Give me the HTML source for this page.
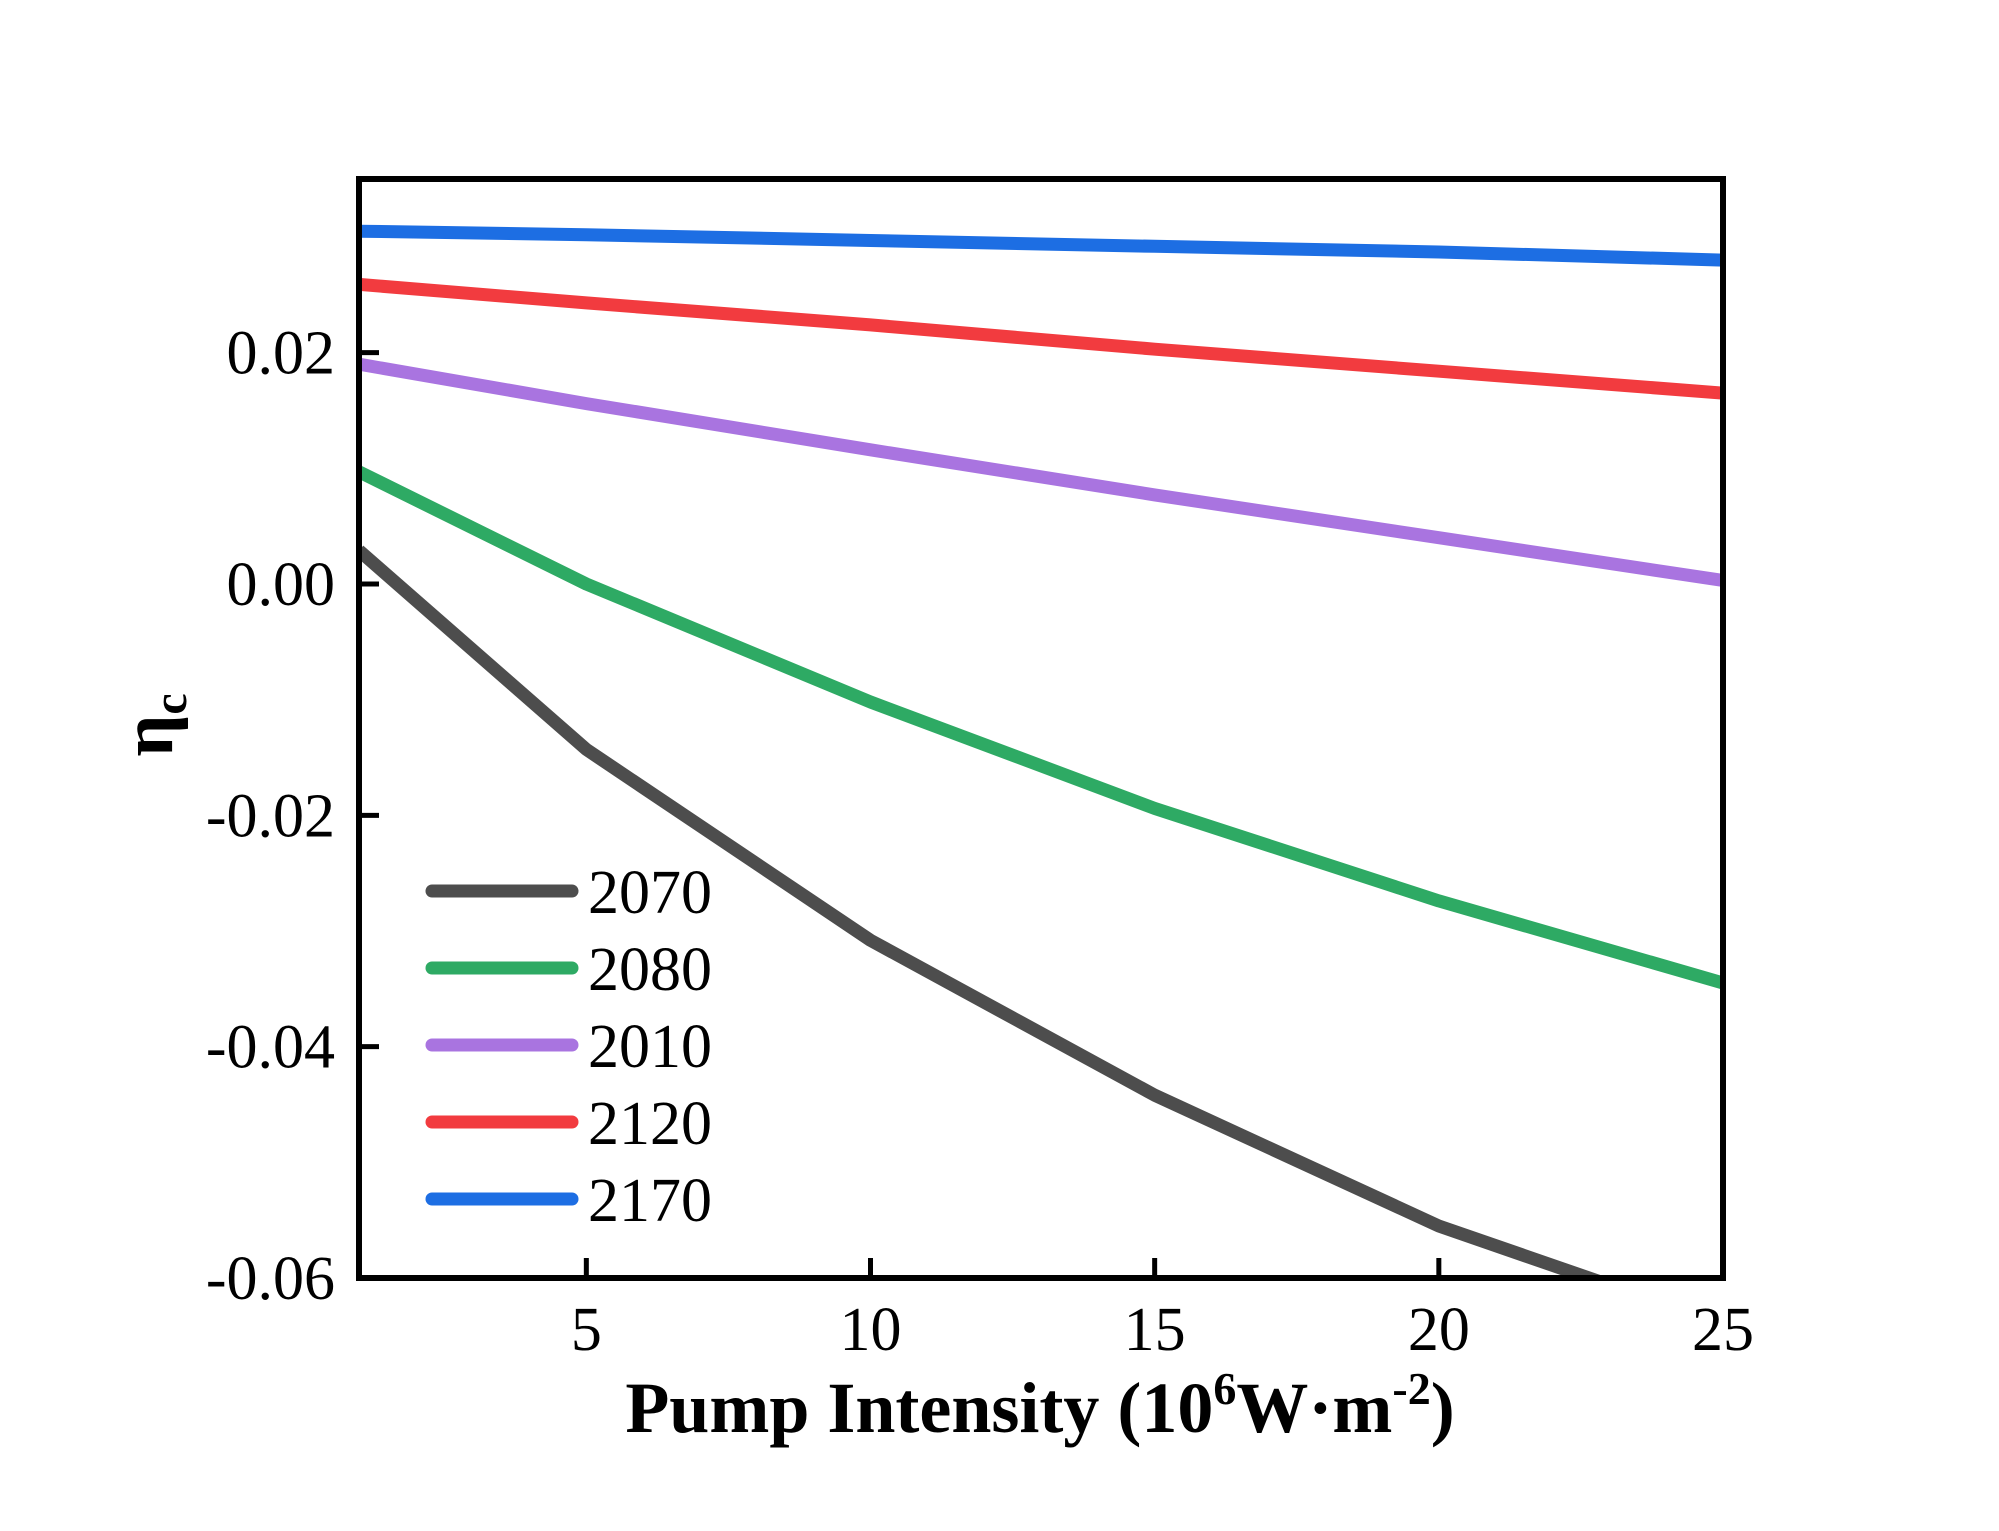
<!DOCTYPE html>
<html><head><meta charset="utf-8"><style>
html,body{margin:0;padding:0;background:#fff;}
svg{display:block;font-family:"Liberation Serif",serif;}
</style></head><body>
<svg id="chart" width="1999" height="1531" viewBox="0 0 1999 1531" xmlns="http://www.w3.org/2000/svg">
<defs><clipPath id="plotclip"><rect x="359" y="179" width="1364" height="1099"/></clipPath></defs>
<rect x="0" y="0" width="1999" height="1531" fill="#fff"/>
<g id="series" clip-path="url(#plotclip)"></g>
<g id="axes"></g>
<g id="legend"></g>
<text x="1040" y="1432" text-anchor="middle" font-size="72" font-weight="bold">Pump Intensity (10<tspan dy="-28" font-size="46">6</tspan><tspan dy="28">W·m</tspan><tspan dy="-28" font-size="46">-2</tspan><tspan dy="28">)</tspan></text>
<text transform="translate(172,725) rotate(-90)" text-anchor="middle" font-size="74" font-weight="bold">η<tspan dy="14" font-size="48">c</tspan></text>
</svg>
<script>
const xValues = [1, 5, 10, 15, 20, 25];
const seriesNames = ["2070", "2080", "2010", "2120", "2170"];
const seriesColors = ["#4d4d4d", "#2eaa64", "#a974e0", "#f23b3f", "#1d6ee3"];
const s2070 = [0.0029, -0.0143, -0.0308, -0.0442, -0.0555, -0.0640];
const s2080 = [0.0097, 0.0000, -0.0102, -0.0194, -0.0274, -0.0345];
const s2010 = [0.0190, 0.0156, 0.0116, 0.0077, 0.0040, 0.0003];
const s2120 = [0.0259, 0.0243, 0.0224, 0.0203, 0.0184, 0.0165];
const s2170 = [0.0305, 0.0302, 0.0297, 0.0292, 0.0287, 0.0280];
const xTicks = [5, 10, 15, 20, 25];
const yTicks = [0.02, 0.00, -0.02, -0.04, -0.06];
const yTickLabels = ["0.02", "0.00", "-0.02", "-0.04", "-0.06"];

const NS = "http://www.w3.org/2000/svg";
const L = 359, R = 1723, T = 179, B = 1278;
const xMin = 1, xMax = 25, yMin = -0.06, yZeroPx = 584;
function X(v){ return L + (v - xMin) * (R - L) / (xMax - xMin); }
function Y(v){ return yZeroPx + (0 - v) * (B - yZeroPx) / (0 - yMin); }
function mk(tag, attrs, parent){ const e = document.createElementNS(NS, tag); for (const k in attrs) e.setAttribute(k, attrs[k]); parent.appendChild(e); return e; }

const allSeries = [s2070, s2080, s2010, s2120, s2170];
const sg = document.getElementById("series");
const lg = document.getElementById("legend");
allSeries.forEach((s, i) => {
  const d = s.map((v, j) => (j ? "L" : "M") + X(xValues[j]).toFixed(1) + " " + Y(v).toFixed(1)).join(" ");
  const p = mk("path", {d: d, fill: "none", stroke: seriesColors[i], "stroke-width": 13, "stroke-linejoin": "round"}, sg);
  
  
  const ly = 891 + i * 77;
  const ll = mk("line", {x1: 432, x2: 572, y1: ly, y2: ly, stroke: seriesColors[i], "stroke-width": 13, "stroke-linecap": "round"}, lg);
  
  
  const lt = mk("text", {x: 588, y: ly + 22, "font-size": 62}, lg);
  lt.textContent = seriesNames[i];
  
  
});

const ag = document.getElementById("axes");
const frame = mk("rect", {x: L, y: T, width: R - L, height: B - T, fill: "none", stroke: "#000", "stroke-width": 6}, ag);


xTicks.forEach(t => {
  const tk = mk("line", {x1: X(t), x2: X(t), y1: B, y2: B - 20, stroke: "#000", "stroke-width": 5}, ag);
  
  
  const tl = mk("text", {x: X(t), y: B + 72, "text-anchor": "middle", "font-size": 62}, ag);
  tl.textContent = String(t);
  
  
});
yTicks.forEach((t, i) => {
  const tk = mk("line", {x1: L, x2: L + 20, y1: Y(t), y2: Y(t), stroke: "#000", "stroke-width": 5}, ag);
  
  
  const tl = mk("text", {x: L - 24, y: Y(t) + 21, "text-anchor": "end", "font-size": 62}, ag);
  tl.textContent = yTickLabels[i];
  
  
});
</script>
</body></html>
